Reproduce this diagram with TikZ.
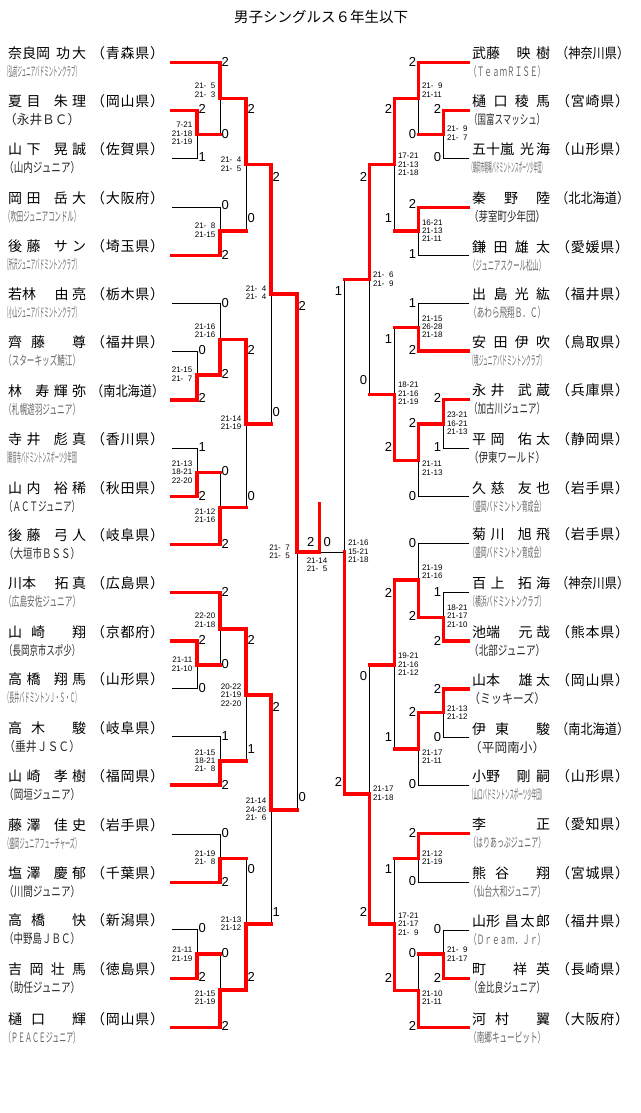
\documentclass[tikz,border=0pt]{standalone}
\usepackage{fontspec}
\usepackage{graphicx}
\setmainfont{Noto Sans CJK JP}
\newfontfamily\numfont{Liberation Sans}
\makeatletter
\def\sp@end{\sp@end}
\def\sp@read#1{\def\sp@tmp{#1}\ifx\sp@tmp\sp@end\else\hfill#1\expandafter\sp@read\fi}
\def\sp@readfirst#1{#1\sp@read}
\newcommand\spreadtxt[1]{\sp@readfirst#1\sp@end}
\makeatother
\newsavebox\tmpbox
\newcommand\ph{\hphantom{0}}
\newcommand\nm[1]{\makebox[78pt][s]{\spreadtxt{#1}}}
\newcommand\pref[1]{\sbox\tmpbox{（#1）}\ifdim\wd\tmpbox>73.5pt\resizebox{73pt}{\height}{（#1）}\else\makebox[73pt][s]{\spreadtxt{（#1）}}\fi}
\newcommand\team[1]{\sbox\tmpbox{（#1）}%
  \ifdim\wd\tmpbox>76pt
    \ifdim\wd\tmpbox>120pt\color{black!60}\else\color{black!85}\fi
    \resizebox{76pt}{\height}{（#1）}%
  \else\makebox[76pt][s]{\spreadtxt{（#1）}}\fi}
\tikzset{
  bline/.style={draw=black, line width=1pt},
  wline/.style={draw=red, line width=3.2pt, line cap=rect},
  nmtxt/.style={inner sep=0pt, font=\fontsize{14}{17}\selectfont, anchor=base west},
  tmtxt/.style={inner sep=0pt, font=\fontsize{13}{15}\selectfont, anchor=base west},
  titletxt/.style={inner sep=0pt, font=\fontsize{14.5}{16}\selectfont, anchor=base},
  labL/.style={inner sep=0pt, font=\numfont\fontsize{13}{14}\selectfont, anchor=west},
  labR/.style={inner sep=0pt, font=\numfont\fontsize{13}{14}\selectfont, anchor=east},
  labC/.style={inner sep=0pt, font=\numfont\fontsize{13}{14}\selectfont, anchor=center},
  scL/.style={inner sep=0pt, font=\numfont\fontsize{8}{8.3}\selectfont, align=right, anchor=east},
  scR/.style={inner sep=0pt, font=\numfont\fontsize{8}{8.3}\selectfont, align=left, anchor=west},
  scC/.style={inner sep=0pt, font=\numfont\fontsize{8}{8.3}\selectfont, align=left, anchor=center},
}
\newcommand\plL[5]{%
  \coordinate (pL#1) at (171.5,#2);
  \node[nmtxt] (nL#1) at (8,#2-3.6) {\nm{#3}};
  \node[nmtxt] (fL#1) at (91,#2-3.6) {\pref{#4}};
  \node[tmtxt] (tL#1) at (4,#2+14.3) {\team{#5}};
}
\newcommand\plR[5]{%
  \coordinate (pR#1) at (468.5,#2);
  \node[nmtxt] (nR#1) at (472,#2-3.6) {\nm{#3}};
  \node[nmtxt] (fR#1) at (556,#2-3.6) {\pref{#4}};
  \node[tmtxt] (tR#1) at (469,#2+14.3) {\team{#5}};
}
% match: name, x, out y, input A, input B, winner
\newcommand\bm[6]{%
  \coordinate (#1) at (#2,#3);
  \draw[bline] (#4) -- (#4 -| #1) -- (#5 -| #1) -- (#5);
  \draw[wline] (#6) -- (#6 -| #1) -- (#1);
}
\newcommand\rh[2]{\draw[wline] (#1) -- (#1 -| #2);}
\begin{document}
\begin{tikzpicture}[x=1pt,y=-1pt]
\useasboundingbox (0,0) rectangle (640,1113);
\node[titletxt] (title) at (321,23) {男子シングルス６年生以下};
% left players
\plL{0}{62.3}{{奈良岡}\hfill 功大}{青森県}{弘前ジュニアバドミントンクラブ}
\plL{1}{110.3}{夏目\hfill 朱理}{岡山県}{永井ＢＣ}
\plL{2}{158.5}{山下\hfill 晃誠}{佐賀県}{山内ジュニア}
\plL{3}{207}{岡田\hfill 岳大}{大阪府}{吹田ジュニアコンドル}
\plL{4}{255.3}{後藤\hfill サン}{埼玉県}{所沢ジュニアバドミントンクラブ}
\plL{5}{303.3}{{若林}\hfill\hfill 由亮}{栃木県}{小山ジュニアバドミントンクラブ}
\plL{6}{351}{齊藤\hfill 尊}{福井県}{スターキッズ鯖江}
\plL{7}{400}{林\hfill 寿輝弥}{南北海道}{札幌遊羽ジュニア}
\plL{8}{448.3}{寺井\hfill 彪真}{香川県}{観音寺バドミントンスポーツ少年団}
\plL{9}{496.7}{山内\hfill 裕稀}{秋田県}{ＡＣＴジュニア}
\plL{10}{544.3}{後藤\hfill 弓人}{岐阜県}{大垣市ＢＳＳ}
\plL{11}{592.3}{{川本}\hfill\hfill 拓真}{広島県}{広島安佐ジュニア}
\plL{12}{641}{山崎\hfill 翔}{京都府}{長岡京市スポ少}
\plL{13}{688.3}{高橋\hfill 翔馬}{山形県}{長井バドミントンＪ・Ｓ・Ｃ}
\plL{14}{736.7}{高木\hfill 駿}{岐阜県}{垂井ＪＳＣ}
\plL{15}{785}{山崎\hfill 孝樹}{福岡県}{岡垣ジュニア}
\plL{16}{834.3}{藤澤\hfill 佳史}{岩手県}{盛岡ジュニアフューチャーズ}
\plL{17}{882.3}{塩澤\hfill 慶郁}{千葉県}{川間ジュニア}
\plL{18}{929.3}{高橋\hfill 快}{新潟県}{中野島ＪＢＣ}
\plL{19}{978.3}{吉岡壮馬}{徳島県}{助任ジュニア}
\plL{20}{1027.7}{樋口\hfill 輝}{岡山県}{ＰＥＡＣＥジュニア}
% right players
\plR{0}{62.3}{{武藤}\hfill 映樹}{神奈川県}{ＴｅａｍＲＩＳＥ}
\plR{1}{110.3}{樋口稜馬}{宮崎県}{国富スマッシュ}
\plR{2}{158.5}{{五十嵐}\hfill 光海}{山形県}{鶴岡市朝暘バドミントンスポーツ少年団}
\plR{3}{207.3}{秦野陸}{北北海道}{芽室町少年団}
\plR{4}{255.7}{鎌田雄太}{愛媛県}{ジュニアスクール松山}
\plR{5}{303.3}{出島光紘}{福井県}{あわら飛翔Ｂ．Ｃ}
\plR{6}{351}{安田伊吹}{鳥取県}{境ジュニアバドミントンクラブ}
\plR{7}{399.3}{永井\hfill 武蔵}{兵庫県}{加古川ジュニア}
\plR{8}{448.3}{平岡\hfill 佑太}{静岡県}{伊東ワールド}
\plR{9}{496.7}{久慈\hfill 友也}{岩手県}{盛岡バドミントン育成会}
\plR{10}{543.3}{菊川\hfill 旭飛}{岩手県}{盛岡バドミントン育成会}
\plR{11}{592.3}{百上\hfill 拓海}{神奈川県}{横浜バドミントンクラブ}
\plR{12}{641}{{池端}\hfill\hfill 元哉}{熊本県}{北部ジュニア}
\plR{13}{689}{{山本}\hfill\hfill 雄太}{岡山県}{ミッキーズ}
\plR{14}{737.7}{伊東\hfill 駿}{南北海道}{平岡南小}
\plR{15}{785}{{小野}\hfill 剛嗣}{山形県}{山口バドミントンスポーツ少年団}
\plR{16}{833.3}{李\hfill 正}{愛知県}{はりあっぷジュニア}
\plR{17}{882.3}{熊谷\hfill 翔}{宮城県}{仙台大和ジュニア}
\plR{18}{930}{{山形}\hfill 昌太郎}{福井県}{Ｄｒｅａｍ．Ｊｒ}
\plR{19}{978.3}{町\hfill 祥英}{長崎県}{金比良ジュニア}
\plR{20}{1027.7}{河村\hfill 翼}{大阪府}{南郷キューピット}
% left bracket
\bm{mL1}{197}{134.3}{pL1}{pL2}{pL1}
\bm{mL2}{220}{98.3}{pL0}{mL1}{pL0} \rh{mL1}{mL2}
\bm{mL3}{220}{231}{pL3}{pL4}{pL4}
\bm{mL4}{246}{164.3}{mL2}{mL3}{mL2} \rh{mL3}{mL4}
\bm{mL5}{197}{375}{pL6}{pL7}{pL7}
\bm{mL6}{220}{339.3}{pL5}{mL5}{mL5}
\bm{mL7}{197}{472.3}{pL8}{pL9}{pL9}
\bm{mL8}{220}{507.7}{mL7}{pL10}{pL10} \rh{mL7}{mL8}
\bm{mL9}{246}{424}{mL6}{mL8}{mL6} \rh{mL8}{mL9}
\bm{mL10}{271}{294}{mL4}{mL9}{mL4} \rh{mL9}{mL10}
\bm{mL11}{197}{665}{pL12}{pL13}{pL12}
\bm{mL12}{220}{629}{pL11}{mL11}{pL11} \rh{mL11}{mL12}
\bm{mL13}{220}{761}{pL14}{pL15}{pL15}
\bm{mL14}{246}{695}{mL12}{mL13}{mL12} \rh{mL13}{mL14}
\bm{mL15}{220}{858.3}{pL16}{pL17}{pL17}
\bm{mL16}{197}{954}{pL18}{pL19}{pL19}
\bm{mL17}{220}{990}{mL16}{pL20}{pL20} \rh{mL16}{mL17}
\bm{mL18}{246}{924}{mL15}{mL17}{mL17} \rh{mL15}{mL18}
\bm{mL19}{271}{810}{mL14}{mL18}{mL14} \rh{mL18}{mL19}
\bm{mL20}{297}{552}{mL10}{mL19}{mL10} \rh{mL19}{mL20}
% right bracket
\bm{mR1}{443.3}{134.3}{pR1}{pR2}{pR1}
\bm{mR2}{418.3}{98.3}{pR0}{mR1}{pR0} \rh{mR1}{mR2}
\bm{mR3}{418.3}{231}{pR3}{pR4}{pR3}
\bm{mR4}{394.3}{164.3}{mR2}{mR3}{mR2} \rh{mR3}{mR4}
\bm{mR5}{418.3}{327.3}{pR5}{pR6}{pR6}
\bm{mR6}{443.3}{424}{pR7}{pR8}{pR7}
\bm{mR7}{418.3}{460.7}{mR6}{pR9}{mR6}
\bm{mR8}{394.3}{394.3}{mR5}{mR7}{mR7} \rh{mR5}{mR8}
\bm{mR9}{369.3}{279.3}{mR4}{mR8}{mR4} \rh{mR8}{mR9}
\bm{mR10}{443.3}{617.3}{pR11}{pR12}{pR12}
\bm{mR11}{418.3}{580}{pR10}{mR10}{mR10}
\bm{mR12}{443.3}{712.7}{pR13}{pR14}{pR13}
\bm{mR13}{418.3}{749}{mR12}{pR15}{mR12}
\bm{mR14}{394.3}{665}{mR11}{mR13}{mR11} \rh{mR13}{mR14}
\bm{mR15}{418.3}{858.3}{pR16}{pR17}{pR16}
\bm{mR16}{443.3}{954}{pR18}{pR19}{pR19}
\bm{mR17}{418.3}{990.7}{mR16}{pR20}{pR20} \rh{mR16}{mR17}
\bm{mR18}{394.3}{924}{mR15}{mR17}{mR17} \rh{mR15}{mR18}
\bm{mR19}{369.3}{794}{mR14}{mR18}{mR18} \rh{mR14}{mR19}
\bm{mR20}{344.3}{552}{mR9}{mR19}{mR19} \rh{mR9}{mR20}
% final
\coordinate (fin) at (319.3,552);
\coordinate (champ) at (319.3,504);
\draw[bline] (mL20) -- (mR20);
\draw[wline] (mL20) -- (fin) -- (champ);
% left game labels
\node[labL] (aL1) at (198.5,109) {2}; \node[labL] (bL1) at (198.5,156.7) {1};
\node[labL] (aL2) at (221.5,61.7) {2}; \node[labL] (bL2) at (221.5,134.3) {0};
\node[labL] (aL3) at (221.5,205) {0}; \node[labL] (bL3) at (221.5,255) {2};
\node[labL] (aL4) at (247.5,109) {2}; \node[labL] (bL4) at (247.5,217.7) {0};
\node[labL] (aL5) at (198.5,350) {0}; \node[labL] (bL5) at (198.5,398.3) {2};
\node[labL] (aL6) at (221.5,303.3) {0}; \node[labL] (bL6) at (221.5,374.3) {2};
\node[labL] (aL7) at (198.5,446.7) {1}; \node[labL] (bL7) at (198.5,496) {2};
\node[labL] (aL8) at (221.5,471) {0}; \node[labL] (bL8) at (221.5,544.3) {2};
\node[labL] (aL9) at (247.5,350) {2}; \node[labL] (bL9) at (247.5,496) {0};
\node[labL] (aL10) at (272.5,176.7) {2}; \node[labL] (bL10) at (272.5,411.7) {0};
\node[labL] (aL11) at (198.5,640) {2}; \node[labL] (bL11) at (198.5,687.7) {0};
\node[labL] (aL12) at (221.5,591.7) {2}; \node[labL] (bL12) at (221.5,664.3) {0};
\node[labL] (aL13) at (221.5,736) {1}; \node[labL] (bL13) at (221.5,785) {2};
\node[labL] (aL14) at (247.5,640) {2}; \node[labL] (bL14) at (247.5,749.3) {1};
\node[labL] (aL15) at (221.5,832.7) {0}; \node[labL] (bL15) at (221.5,881.7) {2};
\node[labL] (aL16) at (198.5,928.3) {0}; \node[labL] (bL16) at (198.5,976.7) {2};
\node[labL] (aL17) at (221.5,953.3) {0}; \node[labL] (bL17) at (221.5,1026) {2};
\node[labL] (aL18) at (247.5,869.3) {0}; \node[labL] (bL18) at (247.5,976.7) {2};
\node[labL] (aL19) at (272.5,706.7) {2}; \node[labL] (bL19) at (272.5,911.7) {1};
\node[labL] (aL20) at (298.5,305.7) {2}; \node[labL] (bL20) at (298.5,796.7) {0};
% right game labels
\node[labR] (aR1) at (441.3,109) {2}; \node[labR] (bR1) at (441.3,156.7) {0};
\node[labR] (aR2) at (416.3,61.7) {2}; \node[labR] (bR2) at (416.3,134.3) {0};
\node[labR] (aR3) at (416.3,204.3) {2}; \node[labR] (bR3) at (416.3,254.3) {1};
\node[labR] (aR4) at (392.3,109) {2}; \node[labR] (bR4) at (392.3,217.7) {1};
\node[labR] (aR5) at (416.3,302.7) {1}; \node[labR] (bR5) at (416.3,350) {2};
\node[labR] (aR6) at (441.3,398.3) {2}; \node[labR] (bR6) at (441.3,446.7) {1};
\node[labR] (aR7) at (416.3,422.7) {2}; \node[labR] (bR7) at (416.3,496) {0};
\node[labR] (aR8) at (392.3,339) {1}; \node[labR] (bR8) at (392.3,446.7) {2};
\node[labR] (aR9) at (367.3,176.7) {2}; \node[labR] (bR9) at (367.3,380) {0};
\node[labR] (aR10) at (441.3,591.7) {1}; \node[labR] (bR10) at (441.3,640.7) {2};
\node[labR] (aR11) at (416.3,543.3) {0}; \node[labR] (bR11) at (416.3,616) {2};
\node[labR] (aR12) at (441.3,689) {2}; \node[labR] (bR12) at (441.3,736.7) {0};
\node[labR] (aR13) at (416.3,711.7) {2}; \node[labR] (bR13) at (416.3,784.3) {0};
\node[labR] (aR14) at (392.3,592.7) {2}; \node[labR] (bR14) at (392.3,736.7) {1};
\node[labR] (aR15) at (416.3,832.7) {2}; \node[labR] (bR15) at (416.3,881) {0};
\node[labR] (aR16) at (441.3,929.3) {0}; \node[labR] (bR16) at (441.3,977.7) {2};
\node[labR] (aR17) at (416.3,953.3) {0}; \node[labR] (bR17) at (416.3,1026) {2};
\node[labR] (aR18) at (392.3,869.3) {1}; \node[labR] (bR18) at (392.3,977.7) {2};
\node[labR] (aR19) at (367.3,676) {0}; \node[labR] (bR19) at (367.3,911.7) {2};
\node[labR] (aR20) at (342.3,290.7) {1}; \node[labR] (bR20) at (342.3,781.7) {2};
\node[labC] (fa) at (310.7,542.3) {2};
\node[labC] (fb) at (327.3,542.3) {0};
% left scores
\node[scL] (sL1) at (192.5,133.3) {7-21\\21-18\\21-19};
\node[scL] (sL2) at (215.5,90.2) {21-\ph5\\21-\ph3};
\node[scL] (sL3) at (215.5,230.2) {21-\ph8\\21-15};
\node[scL] (sL4) at (241.5,164.2) {21-\ph4\\21-\ph5};
\node[scL] (sL5) at (192.5,374.2) {21-15\\21-\ph7};
\node[scL] (sL6) at (215.5,330.8) {21-16\\21-16};
\node[scL] (sL7) at (192.5,472.1) {21-13\\18-21\\22-20};
\node[scL] (sL8) at (215.5,515.8) {21-12\\21-16};
\node[scL] (sL9) at (241.5,423) {21-14\\21-19};
\node[scL] (sL10) at (266.5,293) {21-\ph4\\21-\ph4};
\node[scL] (sL11) at (192.5,664.2) {21-11\\21-10};
\node[scL] (sL12) at (215.5,620.2) {22-20\\21-18};
\node[scL] (sL13) at (215.5,760.9) {21-15\\18-21\\21-\ph8};
\node[scL] (sL14) at (241.5,695) {20-22\\21-19\\22-20};
\node[scL] (sL15) at (215.5,857.5) {21-19\\21-\ph8};
\node[scL] (sL16) at (192.5,954.2) {21-11\\21-19};
\node[scL] (sL17) at (215.5,997.8) {21-15\\21-19};
\node[scL] (sL18) at (241.5,923.5) {21-13\\21-12};
\node[scL] (sL19) at (266.5,809.4) {21-14\\24-26\\21-\ph6};
\node[scL] (sL20) at (290,551.7) {21-\ph7\\21-\ph5};
\node[scC] (sF) at (317,564.5) {21-14\\21-\ph5};
% right scores
\node[scR] (sR1) at (446.8,133.3) {21-\ph9\\21-\ph7};
\node[scR] (sR2) at (421.8,90.2) {21-\ph9\\21-11};
\node[scR] (sR3) at (421.8,230.6) {16-21\\21-13\\21-11};
\node[scR] (sR4) at (397.8,164.3) {17-21\\21-13\\21-18};
\node[scR] (sR5) at (421.8,326.7) {21-15\\26-28\\21-18};
\node[scR] (sR6) at (446.8,423.3) {23-21\\16-21\\21-13};
\node[scR] (sR7) at (421.8,468.2) {21-11\\21-13};
\node[scR] (sR8) at (397.8,393.3) {18-21\\21-16\\21-19};
\node[scR] (sR9) at (372.8,279.2) {21-\ph6\\21-\ph9};
\node[scR] (sR10) at (446.8,616.2) {18-21\\21-17\\21-10};
\node[scR] (sR11) at (421.8,571.8) {21-19\\21-16};
\node[scR] (sR12) at (446.8,712.8) {21-13\\21-12};
\node[scR] (sR13) at (421.8,756.8) {21-17\\21-11};
\node[scR] (sR14) at (397.8,664.2) {19-21\\21-16\\21-12};
\node[scR] (sR15) at (421.8,857.5) {21-12\\21-19};
\node[scR] (sR16) at (446.8,954.2) {21-\ph9\\21-17};
\node[scR] (sR17) at (421.8,997.8) {21-10\\21-11};
\node[scR] (sR18) at (397.8,924) {17-21\\21-17\\21-\ph9};
\node[scR] (sR19) at (372.8,793.3) {21-17\\21-18};
\node[scR] (sR20) at (347.8,551.5) {21-16\\15-21\\21-18};
\end{tikzpicture}
\end{document}
